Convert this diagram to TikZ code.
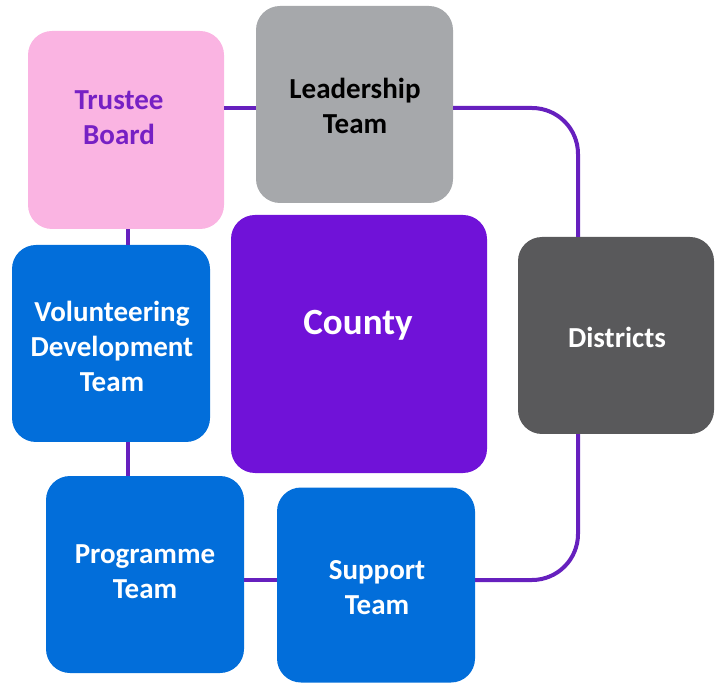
\documentclass[tikz,border=0pt]{standalone}
\usepackage{fontspec}
\setmainfont{Carlito}
\definecolor{pinkbox}{RGB}{250,180,226}
\definecolor{trtext}{RGB}{118,32,196}
\definecolor{leadgray}{RGB}{166,168,171}
\definecolor{countyp}{RGB}{112,18,216}
\definecolor{distgray}{RGB}{89,89,91}
\definecolor{bluebox}{RGB}{2,110,218}
\definecolor{connp}{RGB}{102,32,190}
\begin{document}
\begin{tikzpicture}[x=1pt,y=-1pt,
  box/.style={rectangle, rounded corners=24pt, inner sep=0pt, draw=none},
  lbl/.style={font=\bfseries\fontsize{29}{35}\selectfont, align=center, inner sep=0pt},
  conn/.style={draw=connp, line width=4pt}]
\useasboundingbox (0,0) rectangle (715,684);
% boxes
\node[box, fill=pinkbox, minimum width=196pt, minimum height=198pt] (trustee) at (126,130) {};
\node[box, fill=leadgray, minimum width=197pt, minimum height=197pt] (leader) at (354.5,104.5) {};
\node[box, fill=countyp, minimum width=256pt, minimum height=258pt] (county) at (359,344) {};
\node[box, fill=distgray, minimum width=196pt, minimum height=197pt] (districts) at (616,335.5) {};
\node[box, fill=bluebox, minimum width=198pt, minimum height=197pt] (vol) at (111,343.5) {};
\node[box, fill=bluebox, minimum width=198pt, minimum height=197pt] (prog) at (145,574.5) {};
\node[box, fill=bluebox, minimum width=198pt, minimum height=195pt] (support) at (376,585) {};
% texts
\node[lbl, text=trtext] (ttrustee) at (119,118) {Trustee\\Board};
\node[lbl, text=black] (tleader) at (355,106) {Leadership\\Team};
\node[lbl, text=white, font=\bfseries\fontsize{37}{43}\selectfont] (tcounty) at (358,325) {County};
\node[lbl, text=white] (tdistricts) at (617,337) {Districts};
\node[lbl, text=white] (tvol) at (112,346) {Volunteering\\Development\\Team};
\node[lbl, text=white] (tprog) at (145,572) {Programme\\Team};
\node[lbl, text=white] (tsupport) at (377,588) {Support\\Team};
% connectors
\coordinate (vx) at (128,0);
\coordinate (ty) at (0,108);
\coordinate (hy) at (0,580);
\coordinate (rx) at (578,0);
\draw[conn] (trustee.south -| vx) -- (vol.north -| vx);
\draw[conn] (vol.south -| vx) -- (prog.north -| vx);
\draw[conn] (prog.east |- hy) -- (support.west |- hy);
\draw[conn] (trustee.east |- ty) -- (leader.west |- ty);
\draw[conn, rounded corners=46pt] (leader.east |- ty) -| (districts.north -| rx);
\draw[conn, rounded corners=46pt] (support.east |- hy) -| (districts.south -| rx);
\end{tikzpicture}
\end{document}
